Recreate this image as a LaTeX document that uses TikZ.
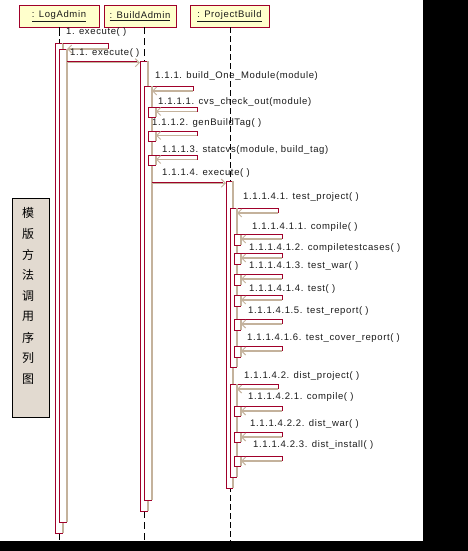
\documentclass[tikz,border=0pt]{standalone}
\usepackage{fontspec}
\setmainfont{Liberation Sans}
\newfontfamily\cjk{Noto Sans CJK SC}
\newfontfamily\lbl[LetterSpace=6.5]{Liberation Sans}
\usetikzlibrary{arrows.meta}
\definecolor{mred}{HTML}{A0002A}
\definecolor{tanc}{HTML}{C4B29C}
\definecolor{hdrc}{HTML}{FFFFCC}
\definecolor{txtc}{HTML}{1A1A1A}
\definecolor{notec}{HTML}{E2DAD0}
\tikzset{
  hdrbox/.style={draw=mred, fill=hdrc, line width=0.8pt, inner sep=0pt,
    font=\lbl\fontsize{9.5}{11}\selectfont, text=txtc},
  msglabel/.style={font=\lbl\fontsize{9.5}{11}\selectfont, text=txtc, anchor=west, inner sep=0pt},
  lifeA/.style={black, line width=0.9pt, dash pattern=on 9pt off 3pt},
  lifeB/.style={black, line width=0.9pt, dash pattern=on 7pt off 4pt},
  lifeC/.style={black, line width=0.9pt, dash pattern=on 6pt off 3pt},
  redline/.style={mred, line width=0.7pt},
  tanline/.style={tanc, line width=1.3pt},
  tanarrow/.style={tanc, line width=1.3pt, -{Straight Barb[length=4pt,width=8pt,line width=1pt]}},
}
% activation bar: x1,y1 (top-left), x2,y2 (bottom-right)
\newcommand{\actbar}[4]{%
  \fill[white] (#1,#2) rectangle (#3,#4);
  \draw[redline] (#3,#2) -- (#1,#2) -- (#1,#4) -- (#3,#4);
  \draw[tanline] (#3,#2) -- (#3,#4);
}
% self call: start x, top y, right x, end x, bottom y
\newcommand{\selfcall}[5]{%
  \draw[redline] (#1,#2) -- (#3,#2) -- (#3,#5);
  \draw[tanarrow] (#3,#5) -- (#4,#5);
}
% call: from x, to x, y
\newcommand{\callmsg}[3]{%
  \draw[tanarrow] (#1,#3+1.2) -- (#2,#3+1.2);
  \draw[redline] (#1,#3) -- (#2-3,#3);
}
\begin{document}
\begin{tikzpicture}[x=1pt,y=-1pt]
\useasboundingbox (0,0) rectangle (468,551);
\fill[white] (0,0) rectangle (468,551);
\fill[black] (423,0) rectangle (468,551);
\fill[black] (0,541) rectangle (468,551);

% headers
\node[hdrbox, minimum width=80pt, minimum height=22pt] (la) at (59,16) {\underline{: LogAdmin}};
\node[hdrbox, minimum width=72pt, minimum height=22pt] (ba) at (140,16) {\underline{: BuildAdmin}};
\node[hdrbox, minimum width=79pt, minimum height=22pt] (pb) at (229.5,16) {\underline{: ProjectBuild}};

% lifelines
\coordinate (laend) at (59,541);
\coordinate (baend) at (144,541);
\coordinate (pbend) at (230,541);
\draw[lifeA] (la.south) -- (laend);
\draw[lifeB] (ba.south -| baend) -- (baend);
\draw[lifeC] (pb.south -| pbend) -- (pbend);

% note
\node[draw=black, fill=notec, line width=0.9pt, minimum width=37pt, minimum height=219pt, inner sep=0pt] (note) at (30.5,307.5) {};
\foreach \c [count=\i from 0] in {模,版,方,法,调,用,序,列,图}
  \node[font=\cjk\fontsize{12}{12}\selectfont, inner sep=0pt] (n\i) at (28,213+20.75*\i) {\c};

% LogAdmin bars
\actbar{55}{43}{63}{533}
\selfcall{63}{43.5}{108}{67}{49}
\actbar{59}{49}{67}{522}

% BuildAdmin bars
\callmsg{67}{140}{61.5}
\actbar{140}{61}{148}{511}
\selfcall{148}{86}{193}{152}{91}
\actbar{144}{86}{152}{500}
\foreach \t in {107,131,155}{
  \actbar{148}{\t}{156}{\t+10}
  \selfcall{152}{\t}{197}{156}{\t+4.5}
}

% ProjectBuild bars
\callmsg{152}{226}{182}
\actbar{226}{181}{233}{488}
\selfcall{233}{208}{278}{237}{213}
\actbar{230}{208}{237}{367}
\foreach \t in {234,253,274,295,319,346}{
  \actbar{234}{\t}{241}{\t+11}
  \selfcall{237}{\t}{282}{241}{\t+5}
}
\selfcall{233}{384}{278}{237}{389}
\actbar{230}{384}{237}{477}
\foreach \t in {406,432,456}{
  \actbar{234}{\t}{241}{\t+10}
  \selfcall{237}{\t}{282}{241}{\t+5}
}

% labels
\node[msglabel] (m1) at (66,32) {1. execute( )};
\node[msglabel] (m11) at (70,53) {1.1. execute( )};
\node[msglabel] (m111) at (155,76) {1.1.1. build\_One\_Module(module)};
\node[msglabel] (m1111) at (158,102) {1.1.1.1. cvs\_check\_out(module)};
\node[msglabel] (m1112) at (152,123) {1.1.1.2. genBuildTag( )};
\node[msglabel] (m1113) at (162,150) {1.1.1.3. statcvs(module, build\_tag)};
\node[msglabel] (m1114) at (162,173) {1.1.1.4. execute( )};
\node[msglabel] (m41) at (243,197) {1.1.1.4.1. test\_project( )};
\node[msglabel] (m411) at (252,227) {1.1.1.4.1.1. compile( )};
\node[msglabel] (m412) at (249,248) {1.1.1.4.1.2. compiletestcases( )};
\node[msglabel] (m413) at (249,266) {1.1.1.4.1.3. test\_war( )};
\node[msglabel] (m414) at (249,289) {1.1.1.4.1.4. test( )};
\node[msglabel] (m415) at (248,311) {1.1.1.4.1.5. test\_report( )};
\node[msglabel] (m416) at (247,338) {1.1.1.4.1.6. test\_cover\_report( )};
\node[msglabel] (m42) at (244,376) {1.1.1.4.2. dist\_project( )};
\node[msglabel] (m421) at (248,397) {1.1.1.4.2.1. compile( )};
\node[msglabel] (m422) at (250,424) {1.1.1.4.2.2. dist\_war( )};
\node[msglabel] (m423) at (253,445) {1.1.1.4.2.3. dist\_install( )};
\end{tikzpicture}
\end{document}
